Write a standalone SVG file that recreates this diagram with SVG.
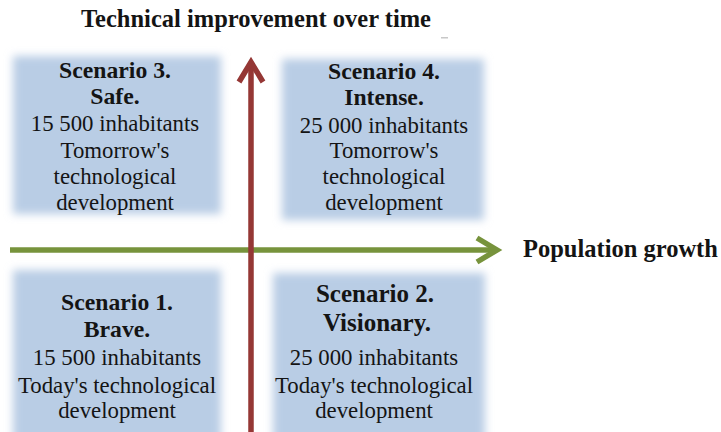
<svg xmlns="http://www.w3.org/2000/svg" width="721" height="432" viewBox="0 0 721 432">
  <style>
    .box { fill: #B9CDE5; filter: url(#soft); }
    .t { font-family: "Liberation Serif", "Times New Roman", serif; fill: #141414; text-anchor: middle; }
    .b { font-weight: bold; font-size: 23.7px; }
    .r { font-size: 22.8px; }
    .big { font-size: 25px; }
    .axis { font-family: "Liberation Serif", "Times New Roman", serif; font-weight: bold; fill: #141414; font-size: 24.5px; }
  </style>
  <defs>
    <filter id="soft" x="-20%" y="-20%" width="140%" height="140%">
      <feGaussianBlur stdDeviation="4.5"/>
    </filter>
    <marker id="headRed" markerUnits="userSpaceOnUse" viewBox="-25 -15 30 30" markerWidth="30" markerHeight="30" refX="0" refY="0" orient="auto" overflow="visible">
      <path d="M-20,-12 L0,0 L-20,12" fill="none" stroke="#953735" stroke-width="5.5"/>
    </marker>
    <marker id="headGreen" markerUnits="userSpaceOnUse" viewBox="-25 -15 30 30" markerWidth="30" markerHeight="30" refX="0" refY="0" orient="auto" overflow="visible">
      <path d="M-20,-12 L0,0 L-20,12" fill="none" stroke="#77933C" stroke-width="5.5"/>
    </marker>
  </defs>
  <rect width="721" height="432" fill="#ffffff"/>

  <g id="scenario3">
    <rect class="box" x="13" y="56" width="208" height="158"/>
    <text class="t b" x="115" y="78">Scenario 3.</text>
    <text class="t b" x="115" y="104">Safe.</text>
    <text class="t r" x="115" y="131">15 500 inhabitants</text>
    <text class="t r" x="115" y="158">Tomorrow's</text>
    <text class="t r" x="115" y="184">technological</text>
    <text class="t r" x="115" y="210">development</text>
  </g>

  <g id="scenario4">
    <rect class="box" x="282" y="59" width="202" height="161"/>
    <text class="t b" x="384" y="79">Scenario 4.</text>
    <text class="t b" x="384" y="105">Intense.</text>
    <text class="t r" x="384" y="133">25 000 inhabitants</text>
    <text class="t r" x="384" y="158">Tomorrow's</text>
    <text class="t r" x="384" y="184">technological</text>
    <text class="t r" x="384" y="210">development</text>
  </g>

  <g id="scenario1">
    <rect class="box" x="13" y="270" width="208" height="175"/>
    <text class="t b" x="117" y="310">Scenario 1.</text>
    <text class="t b" x="117" y="337">Brave.</text>
    <text class="t r" x="117" y="365">15 500 inhabitants</text>
    <text class="t r" x="117" y="393">Today's technological</text>
    <text class="t r" x="117" y="418">development</text>
  </g>

  <g id="scenario2">
    <rect class="box" x="273" y="273" width="212" height="172"/>
    <text class="t b big" x="375" y="302">Scenario 2.</text>
    <text class="t b big" x="377" y="331">Visionary.</text>
    <text class="t r" x="374" y="365">25 000 inhabitants</text>
    <text class="t r" x="374" y="393">Today's technological</text>
    <text class="t r" x="374" y="418">development</text>
  </g>

  <g id="connectors">
    <line x1="10" y1="250" x2="497" y2="250" stroke="#77933C" stroke-width="5.5" marker-end="url(#headGreen)"/>
    <line x1="251" y1="432" x2="251" y2="62" stroke="#953735" stroke-width="5.5" marker-end="url(#headRed)"/>
  </g>

  <g id="labels">
    <text class="axis" x="256" y="27" text-anchor="middle">Technical improvement over time</text>
    <text class="axis" x="523" y="257">Population growth</text>
    <rect x="441" y="37" width="7" height="1.5" fill="#c8c8c8"/>
  </g>
</svg>
